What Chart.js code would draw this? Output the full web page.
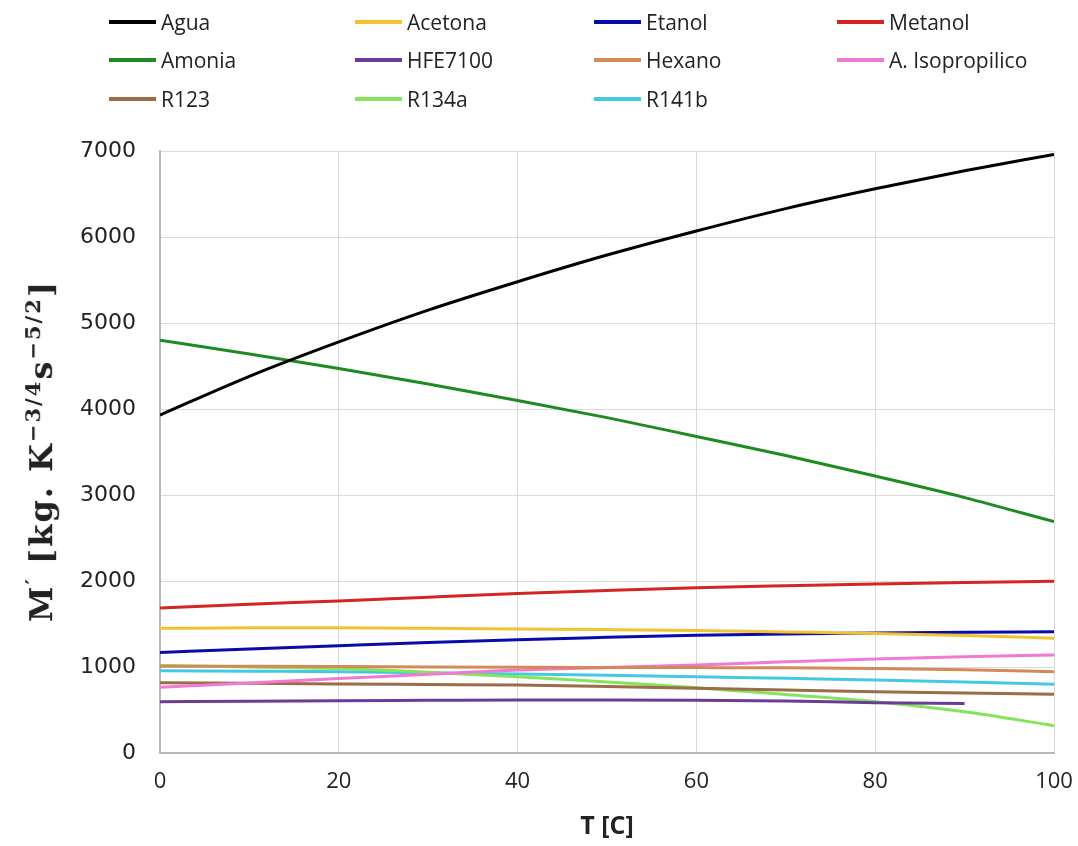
<!DOCTYPE html>
<html>
<head>
<meta charset="utf-8">
<script src="https://cdn.jsdelivr.net/npm/chart.js@4.4.1/dist/chart.umd.min.js"></script>
<style>
  html, body { margin: 0; padding: 0; background: #fff; }
  #wrap { position: relative; width: 1078px; height: 846px; }
  #grafico { position: absolute; left: 0; top: 0; }
  #leyenda { position: absolute; left: 109px; top: 7px; font-family: "Open Sans", sans-serif; font-size: 21px; color: #222; }
  .item { position: absolute; white-space: nowrap; display: flex; align-items: center; height: 30px; }
  .item span.linea { display: inline-block; width: 47px; height: 4px; margin-right: 5px; }
  #ytitulo { position: absolute; left: 40px; top: 451px; transform: translate(-50%, -50%) rotate(-90deg);
    font-family: "DejaVu Serif", "Liberation Serif", serif; font-weight: bold; font-size: 32px; letter-spacing: 2px; color: #222; white-space: nowrap; }
  #ytitulo sup { font-size: 21px; }
</style>
</head>
<body>
<div id="wrap">
  <canvas id="grafico" width="1078" height="846"></canvas>
  <div id="leyenda"></div>
  <div id="ytitulo">M<sup>′</sup> [kg. K<sup>−3/4</sup>s<sup>−5/2</sup>]</div>
</div>
<script>
'use strict';

// Temperatura [C]
const temps = [0, 10, 20, 30, 40, 50, 60, 70, 80, 90, 100];

const agua     = [3930, 4380, 4780, 5150, 5480, 5790, 6070, 6330, 6560, 6770, 6960];
const acetona  = [1450, 1455, 1455, 1450, 1442, 1435, 1425, 1408, 1390, 1365, 1335];
const etanol   = [1170, 1210, 1248, 1285, 1318, 1345, 1370, 1385, 1395, 1405, 1410];
const metanol  = [1686, 1730, 1768, 1812, 1854, 1890, 1922, 1945, 1965, 1982, 1997];
const amonia   = [4800, 4640, 4470, 4290, 4100, 3900, 3680, 3460, 3220, 2970, 2690];
const hfe7100  = [597, 603, 608, 612, 616, 616, 614, 605, 585, 575, null];
const hexano   = [1010, 1008, 1005, 1000, 997, 995, 993, 990, 983, 967, 945];
const isoprop  = [764, 815, 866, 915, 965, 995, 1023, 1060, 1093, 1118, 1140];
const r123     = [818, 810, 802, 796, 790, 773, 752, 733, 713, 697, 682];
const r134a    = [1017, 1000, 983, 940, 888, 825, 760, 680, 597, 480, 318];
const r141b    = [957, 951, 945, 932, 918, 903, 888, 868, 849, 825, 798];

const yTicks = [0, 1000, 2000, 3000, 4000, 5000, 6000, 7000];
const xTicks = [0, 20, 40, 60, 80, 100];

const series = [
    { label: 'Agua', data: agua, color: '#000000' },
    { label: 'Acetona', data: acetona, color: '#f2c230' },
    { label: 'Etanol', data: etanol, color: '#0a0aa8' },
    { label: 'Metanol', data: metanol, color: '#d42424' },
    { label: 'Amonia', data: amonia, color: '#1e8a22' },
    { label: 'HFE7100', data: hfe7100, color: '#6a3c96' },
    { label: 'Hexano', data: hexano, color: '#d48a58' },
    { label: 'A. Isopropilico', data: isoprop, color: '#f07ad2' },
    { label: 'R123', data: r123, color: '#9a6c48' },
    { label: 'R134a', data: r134a, color: '#84e45a' },
    { label: 'R141b', data: r141b, color: '#44c8e4' }
];

// leyenda en columnas (HTML)
const colX = [0, 246, 485, 728];
const rowY = [0, 38, 77];
const leyenda = document.getElementById('leyenda');
series.forEach((s, i) => {
    const div = document.createElement('div');
    div.className = 'item';
    div.style.left = colX[i % 4] + 'px';
    div.style.top = rowY[Math.floor(i / 4)] + 'px';
    div.innerHTML = '<span class="linea" style="background:' + s.color + '"></span>' + s.label;
    leyenda.appendChild(div);
});

const datasets = series.map(s => ({
    label: s.label,
    data: temps.map((t, i) => ({ x: t, y: s.data[i] })),
    borderColor: s.color,
    backgroundColor: s.color,
    borderWidth: 3,
    pointRadius: 0,
    tension: 0.4,
    cubicInterpolationMode: 'monotone',
    spanGaps: false
}));

const ctx = document.getElementById('grafico').getContext('2d');
new Chart(ctx, {
    type: 'line',
    data: { datasets: datasets },
    options: {
        responsive: false,
        animation: false,
        layout: { padding: { top: 151, right: 0, left: 0, bottom: 0 } },
        plugins: {
            legend: { display: false },
            tooltip: { enabled: false }
        },
        scales: {
            x: {
                type: 'linear',
                min: 0,
                max: 100,
                afterBuildTicks: axis => { axis.ticks = xTicks.map(v => ({ value: v })); },
                afterFit: axis => { axis.height = 93; axis.paddingRight = 24; },
                grid: { color: '#d9d9d9', lineWidth: 1, drawTicks: false },
                border: { color: '#b8b8b8', width: 2 },
                ticks: {
                    color: '#222',
                    padding: 16,
                    font: { family: 'Open Sans', size: 22 }
                },
                title: {
                    display: true,
                    text: 'T [C]',
                    color: '#222',
                    padding: { top: 0 },
                    font: { family: 'Open Sans', size: 25, weight: 'bold' }
                }
            },
            y: {
                min: 0,
                max: 7000,
                afterBuildTicks: axis => { axis.ticks = yTicks.map(v => ({ value: v })); },
                afterFit: axis => { axis.width = 160; },
                grid: { color: '#d9d9d9', lineWidth: 1, drawTicks: false },
                border: { color: '#b8b8b8', width: 2 },
                ticks: {
                    color: '#222',
                    padding: 24,
                    font: { family: 'DejaVu Sans', size: 22 },
                    callback: v => String(v)
                }
            }
        }
    }
});
</script>
</body>
</html>
